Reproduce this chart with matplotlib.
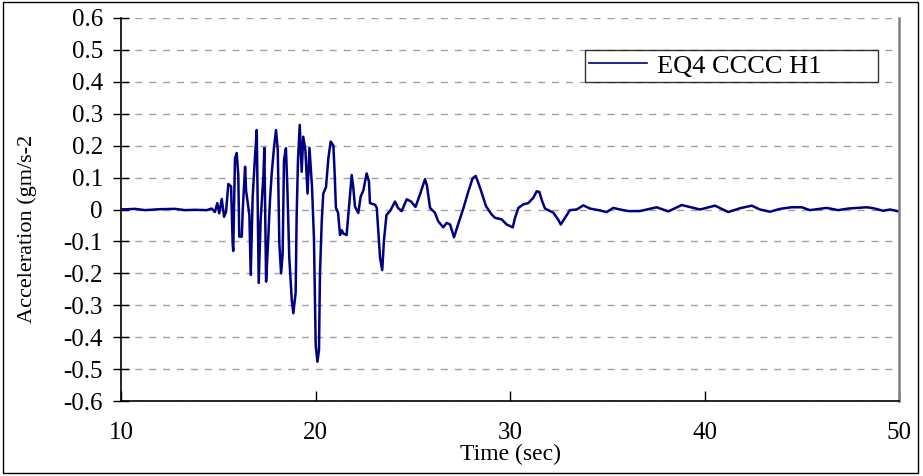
import matplotlib
matplotlib.use("Agg")
import matplotlib.pyplot as plt
from matplotlib.patches import Rectangle
from matplotlib.ticker import MultipleLocator, FormatStrFormatter

plt.rcParams['font.family'] = ['Liberation Serif', 'DejaVu Serif']
plt.rcParams['axes.unicode_minus'] = False

# time (sec) and acceleration
time = [10.00, 10.72, 11.23, 12.01, 12.78, 13.29, 13.80, 14.41, 14.66, 14.83,
        14.95, 15.05, 15.18, 15.30, 15.40, 15.52, 15.66, 15.74, 15.77, 15.86,
        15.95, 16.03, 16.08, 16.21, 16.26, 16.38, 16.43, 16.60, 16.67, 16.77,
        16.89, 16.98, 17.08, 17.18, 17.32, 17.37, 17.46, 17.56, 17.66, 17.75,
        17.87, 17.97, 18.06, 18.14, 18.23, 18.31, 18.38, 18.48, 18.55, 18.65,
        18.78, 18.86, 18.98, 19.03, 19.10, 19.19, 19.29, 19.37, 19.48, 19.59,
        19.69, 19.82, 19.92, 20.01, 20.10, 20.18, 20.23, 20.32, 20.40, 20.54,
        20.66, 20.78, 20.92, 20.98, 21.05, 21.16, 21.26, 21.35, 21.43, 21.60,
        21.69, 21.81, 21.86, 21.94, 22.03, 22.20, 22.32, 22.46, 22.63, 22.75,
        22.80, 23.06, 23.15, 23.32, 23.43, 23.52, 23.65, 23.83, 24.09, 24.24,
        24.43, 24.69, 24.91, 25.14, 25.37, 25.63, 25.73, 25.89, 26.14, 26.31,
        26.57, 26.74, 26.92, 27.12, 27.34, 27.60, 27.86, 28.08, 28.24, 28.46,
        28.77, 29.06, 29.23, 29.57, 29.83, 30.14, 30.26, 30.43, 30.68, 30.94,
        31.20, 31.37, 31.51, 31.63, 31.80, 32.06, 32.23, 32.48, 32.61, 32.83,
        33.08, 33.43, 33.77, 34.11, 34.63, 34.97, 35.31, 35.66, 36.08, 36.68,
        37.54, 38.14, 38.83, 39.77, 40.54, 41.22, 41.83, 42.43, 42.85, 43.37,
        43.88, 44.48, 45.00, 45.42, 46.28, 46.88, 47.39, 48.34, 48.68, 49.19,
        49.54, 50.00]
accel = [0.000, 0.002, -0.002, 0.001, 0.002, -0.002, -0.001, -0.002, 0.003, -0.008,
         0.020, -0.012, 0.033, -0.023, -0.007, 0.080, 0.072, -0.105, -0.130, 0.160,
         0.177, 0.108, -0.085, -0.085, 0.000, 0.134, 0.060, -0.017, -0.205, 0.040,
         0.166, 0.249, -0.230, -0.033, 0.103, 0.193, -0.226, -0.105, 0.030, 0.114,
         0.197, 0.249, 0.186, -0.105, -0.200, -0.140, 0.155, 0.192, 0.075, -0.148,
         -0.284, -0.325, -0.260, -0.022, 0.155, 0.265, 0.118, 0.228, 0.186, 0.050,
         0.193, 0.071, -0.090, -0.425, -0.477, -0.440, -0.200, -0.038, 0.050, 0.070,
         0.160, 0.213, 0.200, 0.120, 0.005, -0.010, -0.080, -0.065, -0.075, -0.080,
         -0.017, 0.071, 0.108, 0.071, 0.009, -0.011, 0.040, 0.060, 0.113, 0.087,
         0.020, 0.015, 0.005, -0.152, -0.190, -0.096, -0.017, -0.005, 0.025, 0.005,
         -0.005, 0.032, 0.025, 0.008, 0.047, 0.095, 0.075, 0.005, -0.010, -0.037,
         -0.056, -0.042, -0.047, -0.087, -0.045, 0.003, 0.057, 0.098, 0.105, 0.068,
         0.010, -0.016, -0.026, -0.031, -0.047, -0.056, -0.026, 0.005, 0.016, 0.020,
         0.037, 0.057, 0.055, 0.030, 0.003, -0.005, -0.010, -0.032, -0.047, -0.026,
         -0.002, 0.000, 0.013, 0.003, -0.003, -0.008, 0.005, 0.000, -0.005, -0.005,
         0.007, -0.006, 0.014, 0.000, 0.012, -0.008, 0.004, 0.012, 0.000, -0.007,
         0.002, 0.007, 0.007, -0.002, 0.005, -0.002, 0.003, 0.007, 0.004, -0.004,
         0.000, -0.006]

series_name = 'EQ4 CCCC H1'

fig = plt.figure(figsize=(9.23, 4.76), dpi=100)
ax = fig.add_axes([121/923, 1 - 401/476, 778/923, 383/476])

ax.plot(time, accel, color='#000080', lw=1.8, label=series_name)

ax.set_xlim(10, 50)
ax.set_ylim(-0.6, 0.6)
ax.xaxis.set_major_locator(MultipleLocator(10))
ax.yaxis.set_major_locator(MultipleLocator(0.1))
ax.yaxis.set_major_formatter(FormatStrFormatter('%g'))

ax.grid(axis='y', color='#a0a0a0', linestyle=(0, (5, 5)), lw=1)
ax.set_axisbelow(True)

for side in ['left', 'bottom']:
    ax.spines[side].set_color('black')
    ax.spines[side].set_linewidth(1.2)
ax.spines['right'].set_color('#808080')
ax.spines['right'].set_linewidth(1.8)
ax.spines['top'].set_visible(False)

ax.tick_params(axis='y', direction='inout', length=12, width=1, pad=7, labelsize=18)
ax.tick_params(axis='x', direction='in', length=7, width=1, pad=15, labelsize=18)

ax.set_xlabel('Time (sec)', fontsize=17, labelpad=0)
ax.set_ylabel('Acceleration (gm/s-2', fontsize=16)
ax.yaxis.set_label_coords(-0.108, 0.45)

leg = ax.legend(loc='upper left', bbox_to_anchor=(0.596, 0.833, 0.377, 0.083),
                mode='expand', borderaxespad=0, fancybox=False, fontsize=19,
                handlelength=2.2, handletextpad=0.4, borderpad=0.15)
leg.get_frame().set_edgecolor('black')
leg.get_frame().set_linewidth(1)
leg.get_lines()[0].set_linewidth(1.2)

# outer chart border
fig.patches.append(Rectangle((3/923, 3/476), 915/923, 471/476, transform=fig.transFigure,
                             fill=False, edgecolor='black', lw=1))

fig.savefig('out.png', dpi=100)
